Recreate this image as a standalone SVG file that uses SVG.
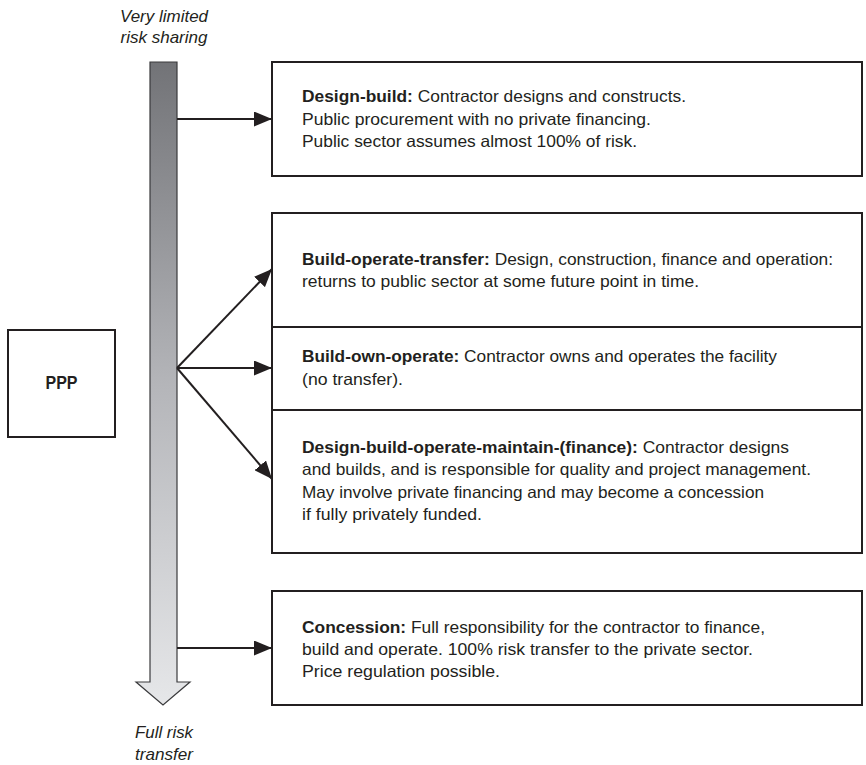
<svg xmlns="http://www.w3.org/2000/svg" width="866" height="765" viewBox="0 0 866 765">
  <defs>
    <linearGradient id="barFill" x1="0" y1="0" x2="0" y2="1">
      <stop offset="0" stop-color="#727377"/>
      <stop offset="0.5" stop-color="#b4b5b9"/>
      <stop offset="1" stop-color="#e6e7e9"/>
    </linearGradient>
    <marker id="head" markerUnits="userSpaceOnUse" markerWidth="18" markerHeight="15" refX="18" refY="7.5" orient="auto">
      <path d="M0,0 L18,7.5 L0,15 Z" fill="#231f20"/>
    </marker>
    <style>
      .box { fill: #ffffff; stroke: #231f20; stroke-width: 2; }
      .txt { font-family: "Liberation Sans", Arial, sans-serif; font-size: 16.5px; fill: #231f20; }
      .b { font-weight: bold; }
      .lbl { font-family: "Liberation Sans", Arial, sans-serif; font-size: 16.5px; font-style: italic; fill: #231f20; text-anchor: middle; }
      .conn line { stroke: #231f20; stroke-width: 2; fill: none; marker-end: url(#head); }
    </style>
  </defs>

  <rect width="866" height="765" fill="#ffffff"/>

  <!-- risk scale arrow -->
  <g id="risk-scale">
    <polygon points="150,62 177,62 177,682 190,682 163,705 136,682 150,682" fill="url(#barFill)" stroke="#3a3a3c" stroke-width="1.2"/>
    <text class="lbl" x="164" y="22" textLength="88" lengthAdjust="spacingAndGlyphs">Very limited</text>
    <text class="lbl" x="164" y="43" textLength="87" lengthAdjust="spacingAndGlyphs">risk sharing</text>
    <text class="lbl" x="164" y="738" textLength="58" lengthAdjust="spacingAndGlyphs">Full risk</text>
    <text class="lbl" x="164" y="760" textLength="58" lengthAdjust="spacingAndGlyphs">transfer</text>
  </g>

  <g id="ppp">
    <rect class="box" x="8" y="330" width="107" height="107"/>
    <text x="61.5" y="389" text-anchor="middle" font-family="'Liberation Sans', Arial, sans-serif" font-size="18" font-weight="bold" fill="#231f20" textLength="32" lengthAdjust="spacingAndGlyphs">PPP</text>
  </g>

  <g id="design-build">
    <rect class="box" x="272" y="62" width="590" height="114"/>
    <text class="txt" x="302" y="102" textLength="384" lengthAdjust="spacingAndGlyphs"><tspan class="b">Design-build:</tspan> Contractor designs and constructs.</text>
    <text class="txt" x="302" y="125" textLength="349" lengthAdjust="spacingAndGlyphs">Public procurement with no private financing.</text>
    <text class="txt" x="302" y="147" textLength="335" lengthAdjust="spacingAndGlyphs">Public sector assumes almost 100% of risk.</text>
  </g>

  <g id="build-operate-transfer">
    <rect class="box" x="272" y="213" width="590" height="114"/>
    <text class="txt" x="302" y="265" textLength="531" lengthAdjust="spacingAndGlyphs"><tspan class="b">Build-operate-transfer:</tspan> Design, construction, finance and operation:</text>
    <text class="txt" x="302" y="287" textLength="397" lengthAdjust="spacingAndGlyphs">returns to public sector at some future point in time.</text>
  </g>

  <g id="build-own-operate">
    <rect class="box" x="272" y="327" width="590" height="83"/>
    <text class="txt" x="302" y="362" textLength="475" lengthAdjust="spacingAndGlyphs"><tspan class="b">Build-own-operate:</tspan> Contractor owns and operates the facility</text>
    <text class="txt" x="302" y="385" textLength="101" lengthAdjust="spacingAndGlyphs">(no transfer).</text>
  </g>

  <g id="design-build-operate-maintain">
    <rect class="box" x="272" y="410" width="590" height="143"/>
    <text class="txt" x="302" y="453" textLength="487" lengthAdjust="spacingAndGlyphs"><tspan class="b">Design-build-operate-maintain-(finance):</tspan> Contractor designs</text>
    <text class="txt" x="302" y="475" textLength="509" lengthAdjust="spacingAndGlyphs">and builds, and is responsible for quality and project management.</text>
    <text class="txt" x="302" y="498" textLength="462" lengthAdjust="spacingAndGlyphs">May involve private financing and may become a concession</text>
    <text class="txt" x="302" y="520" textLength="180" lengthAdjust="spacingAndGlyphs">if fully privately funded.</text>
  </g>

  <g id="concession">
    <rect class="box" x="272" y="591" width="590" height="114"/>
    <text class="txt" x="302" y="633" textLength="463" lengthAdjust="spacingAndGlyphs"><tspan class="b">Concession:</tspan> Full responsibility for the contractor to finance,</text>
    <text class="txt" x="302" y="655" textLength="451" lengthAdjust="spacingAndGlyphs">build and operate. 100% risk transfer to the private sector.</text>
    <text class="txt" x="302" y="677" textLength="198" lengthAdjust="spacingAndGlyphs">Price regulation possible.</text>
  </g>

  <g id="connectors" class="conn">
    <line x1="177" y1="119" x2="272" y2="119"/>
    <line x1="177" y1="368" x2="272" y2="269"/>
    <line x1="177" y1="368" x2="272" y2="368"/>
    <line x1="177" y1="368" x2="272" y2="479"/>
    <line x1="177" y1="648" x2="272" y2="648"/>
  </g>
</svg>
